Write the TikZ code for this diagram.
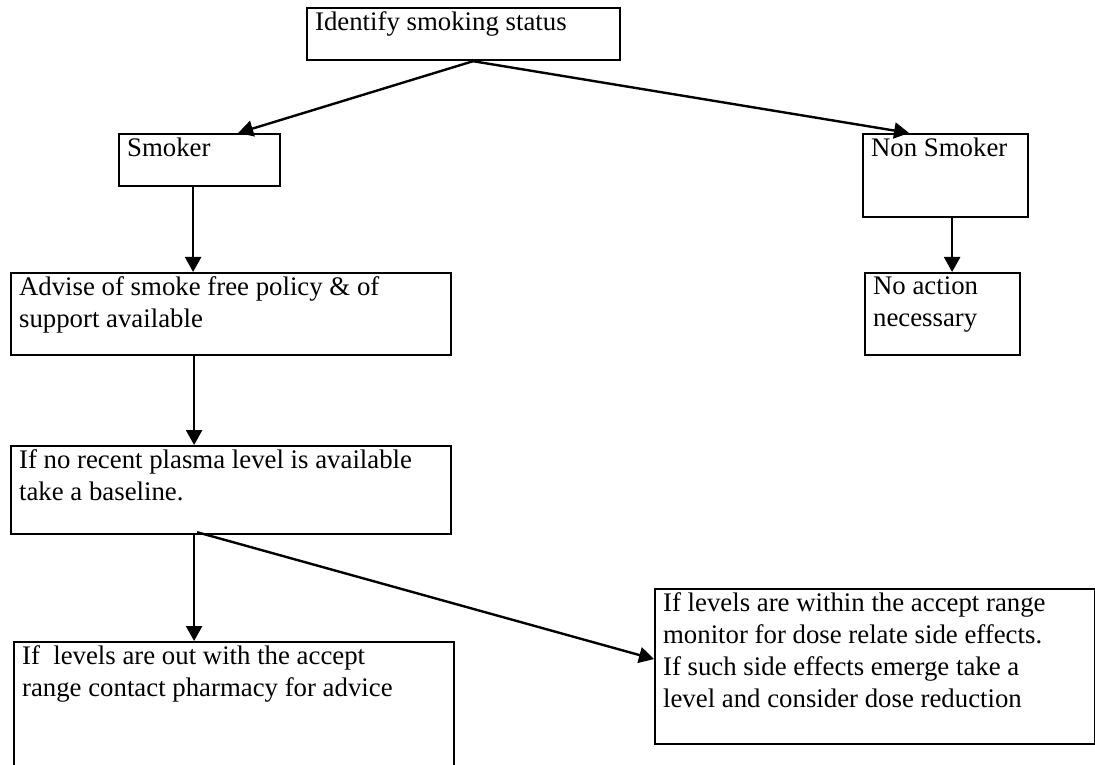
\documentclass[tikz,border=0pt]{standalone}
\usepackage{fontspec}
\setmainfont{Liberation Serif}
\usepackage{tikz}
\usetikzlibrary{calc,positioning,arrows.meta}

\newcommand{\boxtext}[3]{\parbox[t][#2][t]{#1}{\raggedright #3}}

\tikzset{
	box/.style={draw, line width=1.1pt, anchor=north west, inner xsep=4pt, inner ysep=2pt,
		font=\fontsize{13.4pt}{16pt}\selectfont},
	arr/.style={line width=1.2pt, -{Triangle[length=7.5pt,width=8pt]}}
}

\begin{document}
\begin{tikzpicture}[x=0.5pt, y=-0.5pt]
		\useasboundingbox (0,0) rectangle (1095,764);

		\node[box] (status) at (306,7) {\boxtext{148.5pt}{22pt}{Identify smoking status}};
		\node[box] (smoker) at (118,133) {\boxtext{72.5pt}{22pt}{Smoker}};
		\node[box] (nonsmoker) at (862,133) {\boxtext{74.5pt}{37.5pt}{Non Smoker}};
		\node[box] (advise) at (10,272) {\boxtext{212pt}{37pt}{Advise of smoke free policy \& of\\support available}};
		\node[box] (noaction) at (864,272) {\boxtext{69.5pt}{37pt}{No action\\necessary}};
		\node[box] (plasma) at (10,445) {\boxtext{212pt}{40pt}{If no recent plasma level is available\\take a baseline.}};
		\node[box] (outrange) at (13,641) {\boxtext{212pt}{60.5pt}{If~ levels are out with the accept\\range contact pharmacy for advice}};
		\node[box] (inrange) at (654,588) {\boxtext{212pt}{73.5pt}{If levels are within the accept range\\monitor for dose relate side effects.\\If such side effects emerge take a\\level and consider dose reduction}};

		\draw[arr] ([xshift=4.75pt]status.south) -- ([xshift=19.25pt]smoker.north);
		\draw[arr] ([xshift=4.75pt]status.south) -- ([xshift=-18.25pt]nonsmoker.north);
		\draw[arr] ([xshift=-3.25pt]smoker.south) -- ([xshift=-3.25pt]smoker.south |- advise.north);
		\draw[arr] ([xshift=3.25pt]nonsmoker.south) -- ([xshift=3.25pt]nonsmoker.south |- noaction.north);
		\draw[arr] ([xshift=-18.5pt]advise.south) -- ([xshift=-18.5pt]plasma.north);
		\draw[arr] ([xshift=-18.5pt]plasma.south) -- ([xshift=-18.5pt]plasma.south |- outrange.north);
		\draw[arr] ([xshift=-17pt,yshift=1.5pt]plasma.south) -- ([yshift=3.75pt]inrange.west);
	\end{tikzpicture}
\end{document}
